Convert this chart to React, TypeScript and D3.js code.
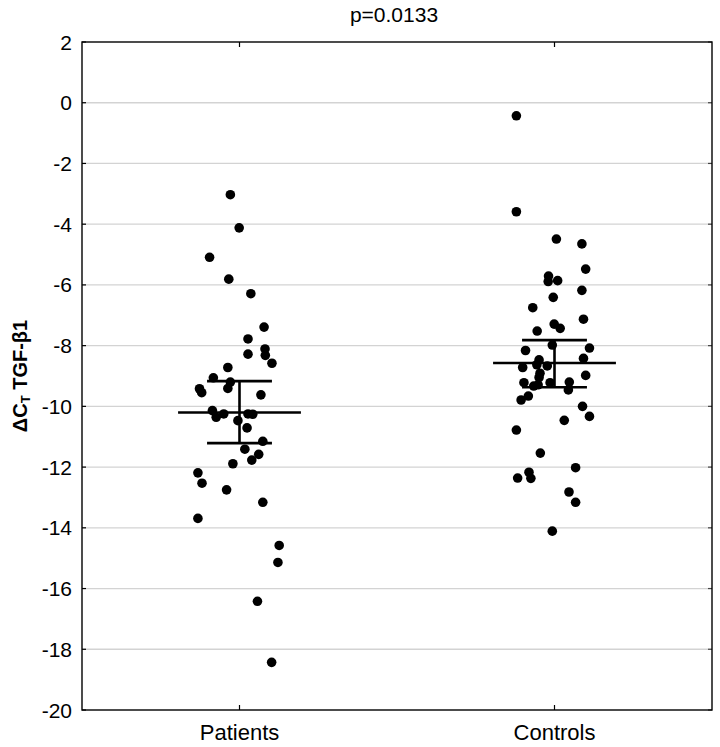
import React from "react";
import * as d3 from "d3";

const categories = ["Patients", "Controls"];
const titleText = "p=0.0133";
const yTicks = [2, 0, -2, -4, -6, -8, -10, -12, -14, -16, -18, -20];

const patientsValues = [
  -3.03, -4.12, -5.09, -5.81, -6.29, -7.39, -7.78, -8.11, -8.28, -8.32,
  -8.58, -8.72, -9.06, -9.2, -9.41, -9.42, -9.55, -9.62, -10.14, -10.36,
  -10.25, -10.47, -10.25, -10.26, -10.71, -11.15, -11.41, -11.58, -11.77, -11.89,
  -12.19, -12.53, -12.75, -13.16, -13.69, -14.58, -15.14, -16.42, -18.43,
];
const patientsJitter = [
  -0.029, -0.001, -0.095, -0.034, 0.036, 0.078, 0.027, 0.081, 0.027, 0.082,
  0.103, -0.037, -0.083, -0.029, -0.037, -0.127, -0.12, 0.068, -0.086, -0.074,
  -0.05, -0.005, 0.027, 0.042, 0.024, 0.074, 0.017, 0.061, 0.039, -0.021,
  -0.132, -0.119, -0.041, 0.074, -0.132, 0.126, 0.122, 0.057, 0.102,
];

const controlsValues = [
  -0.43, -3.59, -4.49, -4.65, -5.48, -5.71, -5.86, -5.89, -6.18, -6.41,
  -6.75, -7.13, -7.29, -7.43, -7.52, -7.98, -8.08, -8.16, -8.42, -8.47,
  -8.63, -8.67, -8.72, -8.91, -8.98, -9.05, -9.22, -9.22, -9.2, -9.29,
  -9.33, -9.46, -9.66, -9.79, -10.0, -10.33, -10.46, -10.78, -11.54, -12.02,
  -12.17, -12.36, -12.37, -12.82, -13.16, -14.11,
];
const controlsJitter = [
  -0.121, -0.121, 0.006, 0.087, 0.099, -0.019, 0.01, -0.02, 0.087, -0.004,
  -0.069, 0.092, -0.001, 0.018, -0.055, -0.007, 0.111, -0.092, 0.092, -0.049,
  -0.056, -0.023, -0.101, -0.046, 0.099, -0.049, -0.097, -0.014, 0.047, -0.052,
  -0.066, 0.044, -0.083, -0.106, 0.089, 0.111, 0.031, -0.121, -0.045, 0.067,
  -0.081, -0.117, -0.075, 0.046, 0.067, -0.007,
];

const means = [-10.2, -8.57];
const upperBars = [-9.17, -7.82];
const lowerBars = [-11.21, -9.37];

const W = 720;
const H = 747;
const M = { left: 82, right: 712, top: 42, bottom: 710 };
const FONT = "'Liberation Sans', Arial, sans-serif";

export default function App() {
  const x = d3.scaleLinear().domain([0.5, 2.5]).range([M.left, M.right]);
  const y = d3.scaleLinear().domain([2, -20]).range([M.top, M.bottom]);

  const groups = [
    { values: patientsValues, jitter: patientsJitter },
    { values: controlsValues, jitter: controlsJitter },
  ];

  const meanHalf = 0.195;
  const capHalf = 0.103;

  return (
    <svg
      width={W}
      height={H}
      style={{ position: "absolute", left: 0, top: 0, background: "#fff" }}
      fontFamily={FONT}
    >
      <rect x={0} y={0} width={W} height={H} fill="#fff" />
      {yTicks
        .filter((t) => t !== 2 && t !== -20)
        .map((t) => (
          <line
            key={"g" + t}
            x1={M.left}
            x2={M.right}
            y1={y(t)}
            y2={y(t)}
            stroke="#d3d3d3"
            strokeWidth={1.3}
          />
        ))}
      {yTicks.map((t) => (
        <g key={"t" + t}>
          <line x1={M.left} x2={M.left + 4} y1={y(t)} y2={y(t)} stroke="#000" strokeWidth={1.2} />
          <line x1={M.right - 4} x2={M.right} y1={y(t)} y2={y(t)} stroke="#444" strokeWidth={1.2} />
          <text
            x={M.left - 10}
            y={y(t)}
            textAnchor="end"
            dominantBaseline="central"
            fontSize={21}
            fill="#000"
          >
            {t}
          </text>
        </g>
      ))}
      {categories.map((c, i) => (
        <g key={c}>
          <line x1={x(i + 1)} x2={x(i + 1)} y1={M.top} y2={M.top + 5} stroke="#000" strokeWidth={1.2} />
          <line x1={x(i + 1)} x2={x(i + 1)} y1={M.bottom - 5} y2={M.bottom} stroke="#000" strokeWidth={1.2} />
          <text x={x(i + 1)} y={740} textAnchor="middle" fontSize={22} fill="#000">
            {c}
          </text>
        </g>
      ))}
      <rect
        x={M.left}
        y={M.top}
        width={M.right - M.left}
        height={M.bottom - M.top}
        fill="none"
        stroke="#000"
        strokeWidth={1.4}
      />
      {groups.map((g, gi) =>
        g.values.map((v, i) => (
          <circle
            key={gi + "-" + i}
            cx={x(gi + 1 + g.jitter[i])}
            cy={y(v)}
            r={4.8}
            fill="#000"
          />
        ))
      )}
      {means.map((m, i) => {
        const cx = i + 1;
        return (
          <g key={"m" + i} stroke="#000" strokeWidth={2.6}>
            <line x1={x(cx - meanHalf)} x2={x(cx + meanHalf)} y1={y(m)} y2={y(m)} />
            <line x1={x(cx)} x2={x(cx)} y1={y(upperBars[i])} y2={y(lowerBars[i])} />
            <line x1={x(cx - capHalf)} x2={x(cx + capHalf)} y1={y(upperBars[i])} y2={y(upperBars[i])} />
            <line x1={x(cx - capHalf)} x2={x(cx + capHalf)} y1={y(lowerBars[i])} y2={y(lowerBars[i])} />
          </g>
        );
      })}
      <text x={(M.left + M.right) / 2 - 3} y={22} textAnchor="middle" fontSize={21} fill="#000">
        {titleText}
      </text>
      <text
        transform={`translate(27, ${(M.top + M.bottom) / 2}) rotate(-90)`}
        textAnchor="middle"
        fontSize={20}
        fontWeight="bold"
        fill="#000"
      >
        ΔC<tspan fontSize={13} dy={3}>T</tspan>
        <tspan dy={-3}> TGF-β1</tspan>
      </text>
    </svg>
  );
}
